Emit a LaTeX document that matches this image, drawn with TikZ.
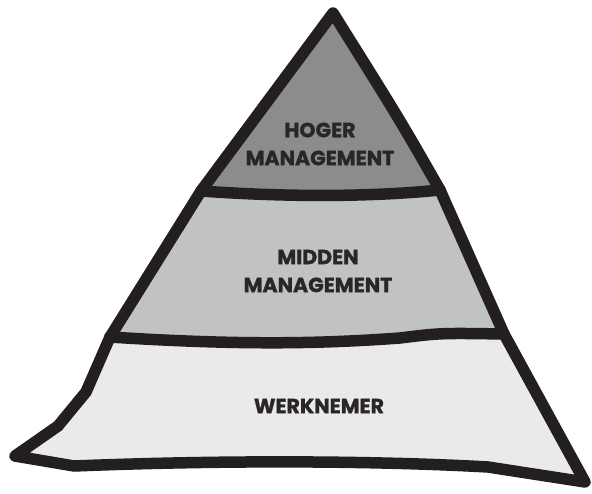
\documentclass[tikz,border=0pt]{standalone}
\usepackage{fontspec}
\setmainfont{Poppins}[BoldFeatures={FakeBold=1.3}]
\definecolor{inkblack}{HTML}{231F20}
\definecolor{inktext}{HTML}{2A2627}
\definecolor{topgrey}{HTML}{8B8C8E}
\definecolor{midgrey}{HTML}{C1C2C4}
\definecolor{lowgrey}{HTML}{EAEAEB}
\begin{document}
\begin{tikzpicture}[
    x=1pt, y=-1pt,
 outline/.style = {
        draw=inkblack, line width=11.5pt,
        line join=round, line cap=round},
 tier/.style = {
        font=\fontsize{20.5}{28}\selectfont\bfseries,
        text=inktext, align=center, inner sep=0pt}
                    ]
\useasboundingbox (0,0) rectangle (592,493);
% the corners of the pyramid
\coordinate (apex) at (333,13);
\coordinate (l1)   at (201,191);
\coordinate (r1)   at (440,190);
\coordinate (l2)   at (110,337);
\coordinate (r2)   at (504,334);
\coordinate (lm)   at (86,392);
\coordinate (lk)   at (58,426);
\coordinate (bl)   at (15,456);
\coordinate (bk)   at (74,466);
\coordinate (rk)   at (488,467);
\coordinate (br)   at (585,482);
% the fills, bottom to top
\fill[lowgrey] (apex) -- (l1) -- (l2) -- (lm) -- (lk) -- (bl) -- (bk)
        .. controls (250,459) and (400,462) .. (rk) -- (br)
        -- (r2) -- (r1) .. controls (400,120) .. (apex) -- cycle;
\fill[midgrey] (apex) -- (l1) -- (l2)
        .. controls (250,346) and (330,343) .. (400,338)
        .. controls (440,333) .. (r2)
        -- (r1) .. controls (400,120) .. (apex) -- cycle;
\fill[topgrey] (apex) -- (l1) .. controls (300,198) and (380,196) .. (r1)
        .. controls (400,120) .. (apex) -- cycle;
% the outline and the dividers
\draw[outline] (apex) -- (l1) -- (l2) -- (lm) -- (lk) -- (bl) -- (bk)
        .. controls (250,459) and (400,462) .. (rk) -- (br)
        -- (r2) -- (r1) .. controls (400,120) .. (apex) -- cycle;
\draw[outline] (l1) .. controls (300,198) and (380,196) .. (r1);
\draw[outline] (l2) .. controls (250,346) and (330,343) .. (400,338)
        .. controls (440,333) .. (r2);
% the labels
\node (hoger)  [tier] at (320,144) {HOGER\\MANAGEMENT};
\node (midden) [tier] at (318,271) {MIDDEN\\MANAGEMENT};
\node (werk)   [tier] at (319,406) {WERKNEMER};
\end{tikzpicture}
\end{document}
